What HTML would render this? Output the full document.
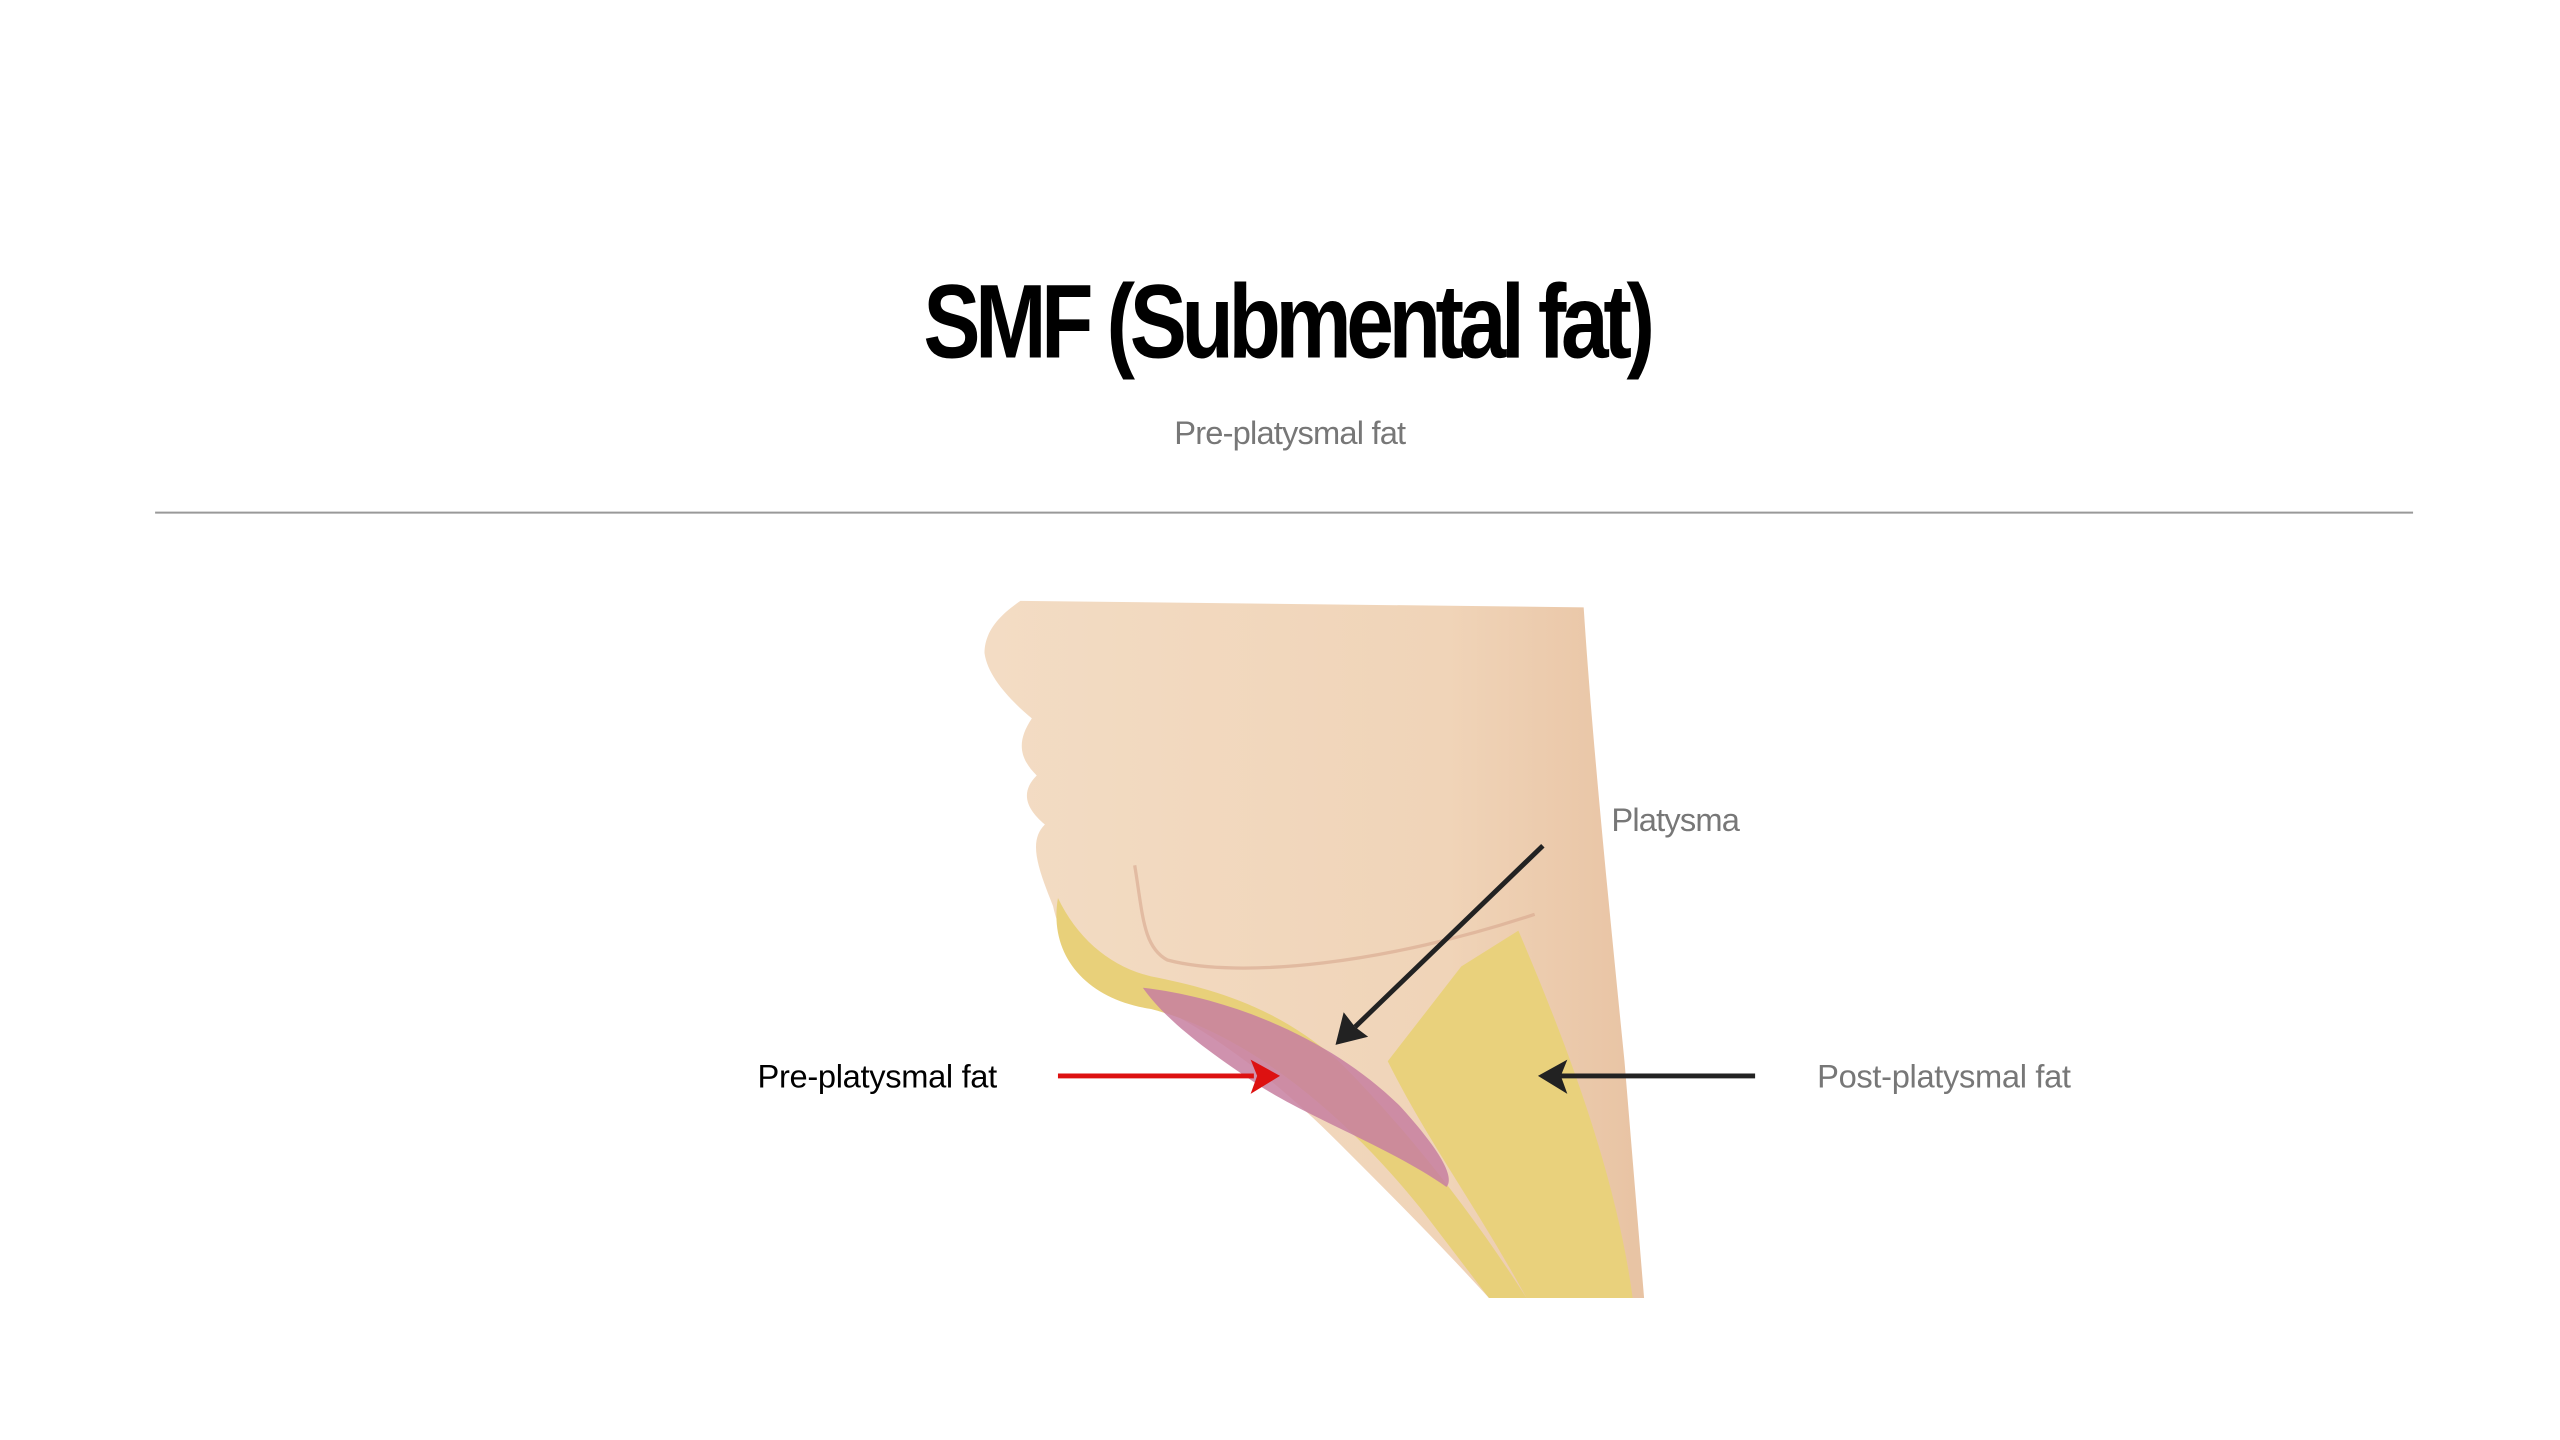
<!DOCTYPE html>
<html><head><meta charset="utf-8"><style>
html,body{margin:0;padding:0;background:#fff;width:2560px;height:1440px;overflow:hidden}
svg{display:block}
</style></head><body>
<svg width="2560" height="1440" viewBox="0 0 1568 882" preserveAspectRatio="none" xmlns="http://www.w3.org/2000/svg">
<rect width="1568" height="882" fill="#fff"/>
<text x="788" y="219" text-anchor="middle" font-family="Liberation Sans, sans-serif" font-weight="bold" font-size="64" letter-spacing="-4" transform="translate(788,0) scale(0.82,1) translate(-788,0)" fill="#000">SMF (Submental fat)</text>
<text x="790" y="272" text-anchor="middle" font-family="Liberation Sans, sans-serif" font-size="20" letter-spacing="-0.5" fill="#777">Pre-platysmal fat</text>
<line x1="95" y1="314" x2="1478" y2="314" stroke="#999" stroke-width="1.2"/>
<defs>
<linearGradient id="sk" x1="0" y1="0" x2="1" y2="0"><stop offset="0" stop-color="#f3dcc4"/><stop offset="0.7" stop-color="#f0d4b8"/><stop offset="1" stop-color="#e8c3a3"/></linearGradient>
</defs>
<path d="M625,368 L970,372 C975,450 985,550 995,650 L1007,795 L912,795 C880,760 850,730 820,700 C780,660 740,630 700,612 C670,600 650,580 645,555 C635,530 630,515 640,505 C628,495 625,485 635,475 C625,465 622,455 632,440 C620,430 605,415 603,400 C603,385 615,375 625,368 Z" fill="url(#sk)"/>
<path d="M648,550 C642,585 665,612 705,618 C770,635 830,690 870,740 L912,795 L935,795 C900,740 860,690 820,650 C780,615 740,605 705,598 C680,592 660,575 648,550 Z" fill="#e8d07a"/>
<path d="M895,592 L930,570 C960,640 990,720 1000,795 L935,795 C905,740 875,700 850,650 Z" fill="#e9d17c"/>
<path d="M700,605 C760,612 820,640 858,678 C878,700 892,720 886,727 C850,702 800,684 770,664 C740,644 715,626 700,605 Z" fill="#c77fa0" opacity="0.85"/>
<path d="M695,530 C700,560 700,580 715,588 C760,600 850,590 940,560" fill="none" stroke="#d7a78e" stroke-width="2" opacity="0.6"/>
<text x="987" y="509" font-family="Liberation Sans, sans-serif" font-size="20" letter-spacing="-0.5" fill="#777">Platysma</text>
<text x="464" y="666" font-family="Liberation Sans, sans-serif" font-size="20" letter-spacing="-0.2" fill="#000">Pre-platysmal fat</text>
<text x="1113" y="666" font-family="Liberation Sans, sans-serif" font-size="20" letter-spacing="-0.2" fill="#777">Post-platysmal fat</text>
<line x1="648" y1="659" x2="768" y2="659" stroke="#d11" stroke-width="3"/>
<polygon points="784,659 766,649 770,659 766,670" fill="#d11"/>
<line x1="1075" y1="659" x2="956" y2="659" stroke="#222" stroke-width="3"/>
<polygon points="942,659 960,649 956,659 960,670" fill="#222"/>
<line x1="945" y1="518" x2="830" y2="629" stroke="#222" stroke-width="3"/>
<polygon points="818,640 823,620 830,629 838,635" fill="#222"/>
</svg>
</body></html>
